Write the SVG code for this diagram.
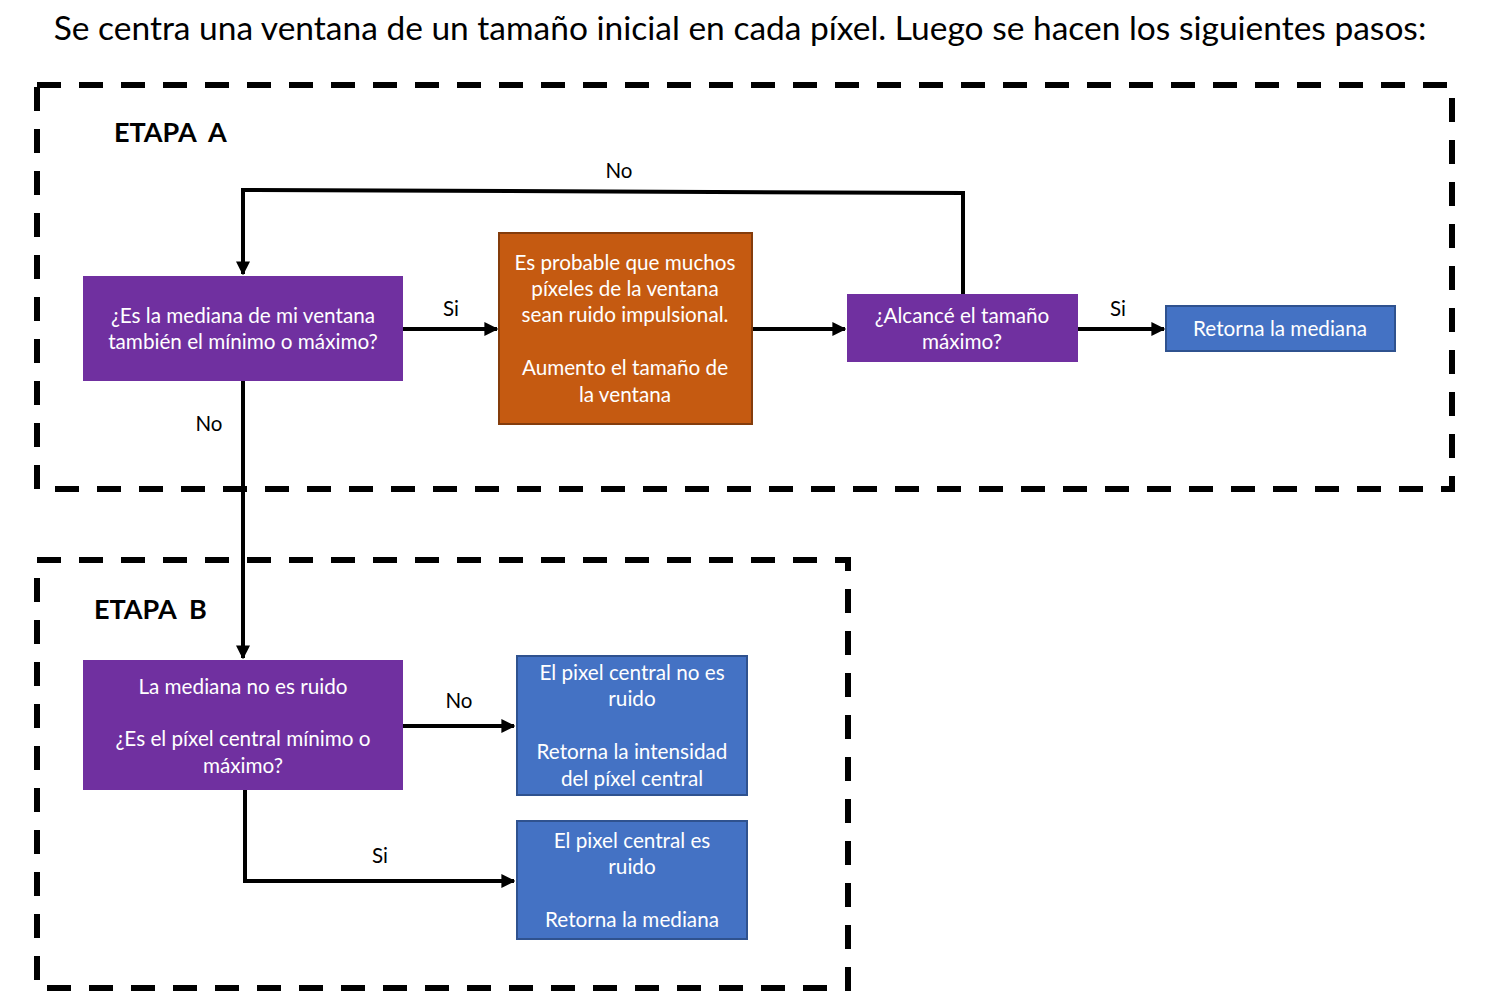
<svg xmlns="http://www.w3.org/2000/svg" width="1487" height="1007" viewBox="0 0 1487 1007">
<defs>
<marker id="ah" viewBox="0 0 10 10" refX="9" refY="5" markerWidth="3.5" markerHeight="3.5" orient="auto" markerUnits="strokeWidth"><path d="M0,0 L10,5 L0,10 z" fill="#000"/></marker>
<style>
text{font-family:Lato,"Open Sans","Liberation Sans",sans-serif}
.t{font-size:20.7px;fill:#fff;text-anchor:middle}
.l{font-size:20.5px;fill:#000;text-anchor:middle}
.h{font-size:27px;font-weight:bold;fill:#000}
.frame{fill:none;stroke:#000;stroke-width:6;stroke-dasharray:24 18}
.c{fill:none;stroke:#000;stroke-width:4}
.pu{fill:#7030A0}
.or{fill:#C55A11;stroke:#843C0C;stroke-width:2}
.bl{fill:#4472C4;stroke:#2F528F;stroke-width:2}
</style>
</defs>
<rect width="1487" height="1007" fill="#fff"/>
<text x="740" y="40" style="font-size:33.5px;text-anchor:middle" fill="#000">Se centra una ventana de un tamaño inicial en cada píxel. Luego se hacen los siguientes pasos:</text>
<g id="stageA">
<rect class="frame" x="37" y="85" width="1415" height="404"/>
<text class="h" x="114" y="142">ETAPA&#160;&#160;A</text>
</g>
<g id="stageB">
<path class="frame" d="M37,560 H848 V988 H37 Z"/>
<text class="h" x="94" y="619">ETAPA&#160;&#160;B</text>
</g>
<g id="connectors">
<path class="c" d="M963,294 V193 L243,190 V274" marker-end="url(#ah)"/>
<path class="c" d="M403,329 H497" marker-end="url(#ah)"/>
<path class="c" d="M752,329 H845" marker-end="url(#ah)"/>
<path class="c" d="M1078,329 H1164" marker-end="url(#ah)"/>
<path class="c" d="M243,381 V658" marker-end="url(#ah)"/>
<path class="c" d="M403,726 H514" marker-end="url(#ah)"/>
<path class="c" d="M245,790 V881 H514" marker-end="url(#ah)"/>
<text class="l" x="619" y="178">No</text>
<text class="l" x="451" y="316">Si</text>
<text class="l" x="1118" y="316">Si</text>
<text class="l" x="209" y="431">No</text>
<text class="l" x="459" y="708">No</text>
<text class="l" x="380" y="863">Si</text>
</g>
<g id="n1">
<rect class="pu" x="83" y="276" width="320" height="105"/>
<text class="t" x="243" y="323">¿Es la mediana de mi ventana</text>
<text class="t" x="243" y="349">también el mínimo o máximo?</text>
</g>
<g id="n2">
<rect class="or" x="499" y="233" width="253" height="191"/>
<text class="t" x="625" y="270">Es probable que muchos</text>
<text class="t" x="625" y="296">píxeles de la ventana</text>
<text class="t" x="625" y="322">sean ruido impulsional.</text>
<text class="t" x="625" y="375">Aumento el tamaño de</text>
<text class="t" x="625" y="402">la ventana</text>
</g>
<g id="n3">
<rect class="pu" x="847" y="294" width="231" height="68"/>
<text class="t" x="962" y="323">¿Alcancé el tamaño</text>
<text class="t" x="962" y="349">máximo?</text>
</g>
<g id="n4">
<rect class="bl" x="1166" y="306" width="229" height="45"/>
<text class="t" x="1280" y="336">Retorna la mediana</text>
</g>
<g id="n5">
<rect class="pu" x="83" y="660" width="320" height="130"/>
<text class="t" x="243" y="694">La mediana no es ruido</text>
<text class="t" x="243" y="746">¿Es el píxel central mínimo o</text>
<text class="t" x="243" y="773">máximo?</text>
</g>
<g id="n6">
<rect class="bl" x="517" y="656" width="230" height="139"/>
<text class="t" x="632" y="680">El pixel central no es</text>
<text class="t" x="632" y="706">ruido</text>
<text class="t" x="632" y="759">Retorna la intensidad</text>
<text class="t" x="632" y="786">del píxel central</text>
</g>
<g id="n7">
<rect class="bl" x="517" y="821" width="230" height="118"/>
<text class="t" x="632" y="848">El pixel central es</text>
<text class="t" x="632" y="874">ruido</text>
<text class="t" x="632" y="927">Retorna la mediana</text>
</g>
</svg>
